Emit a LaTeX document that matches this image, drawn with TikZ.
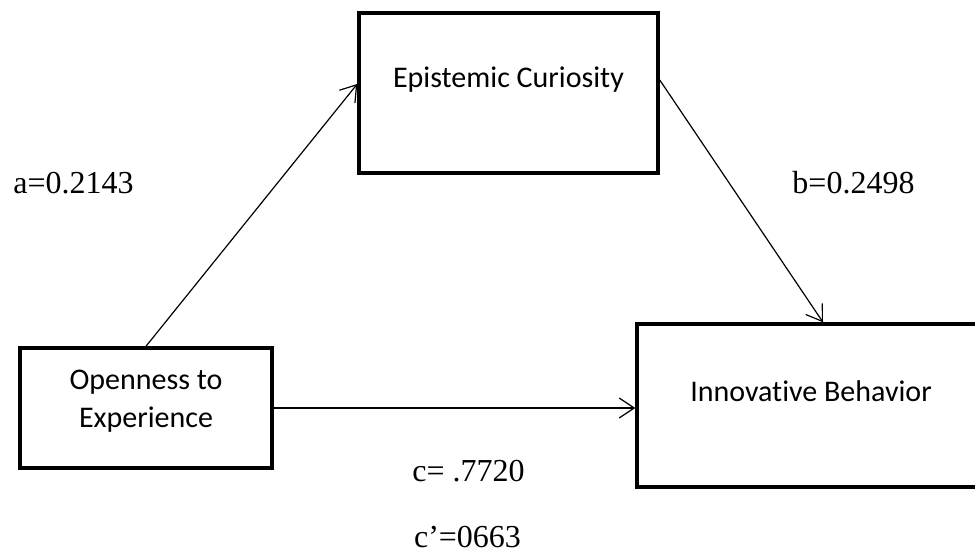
\documentclass[tikz,border=0pt]{standalone}
\usepackage{fontspec}
\setmainfont{Liberation Serif}
\newfontfamily\boxfont[Ligatures=NoCommon]{Carlito}
\usetikzlibrary{arrows.meta,positioning}
\newcommand{\liftby}[2]{\raisebox{#1}[\height][\depth]{#2}}

\begin{document}
\begin{tikzpicture}[
			x = 1pt, y = -1pt,
			varbox/.style = {draw, rectangle, line width = 3.5pt, inner sep = 0pt,
				font = \boxfont\fontsize{30}{38}\selectfont},
			effect/.style = {line width = 1.2pt, -{Straight Barb[length=15pt,width=20pt]}},
			coef/.style = {anchor = base, inner sep = 0pt, font = \fontsize{32}{38}\selectfont}]

			\useasboundingbox (0,0) rectangle (975,554);

			\node[varbox, minimum width = 299pt, minimum height = 160pt] (epi) at (508.5,93) {\liftby{13pt}{Epistemic Curiosity}};
			\node[varbox, minimum width = 252pt, minimum height = 120pt] (open) at (146,408) {\liftby{7pt}{\begin{tabular}{@{}c@{}}Openness to\\Experience\end{tabular}}};
			\node[varbox, minimum width = 348pt, minimum height = 163pt] (innov) at (811,405.5) {\liftby{14pt}{Innovative Behavior}};

			\draw[effect] (open.north) -- ([yshift=9pt]epi.west);
			\draw[effect] ([yshift=13pt]epi.east) -- ([xshift=12pt]innov.north);
			\draw[effect] (open.east) -- (open.east -| innov.west);

			\node[coef] (a) at (73.5,193) {a=0.2143};
			\node[coef] (b) at (853.5,193) {b=0.2498};
			\node[coef] (c) at (468.5,481) {c= .7720};
			\node[coef] (cprime) at (467.5,547) {c’=0663};

		\end{tikzpicture}
\end{document}
